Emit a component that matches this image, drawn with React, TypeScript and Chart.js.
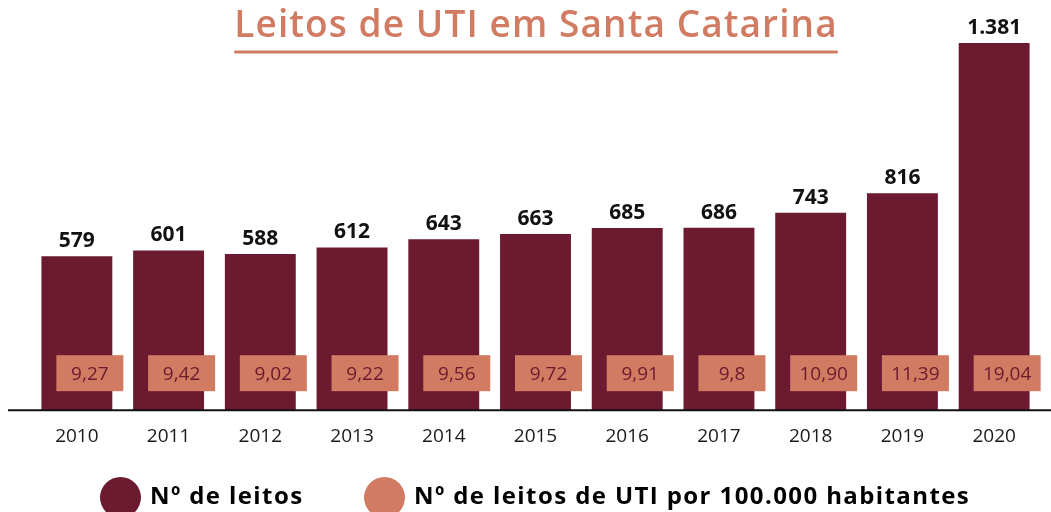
import React, { useEffect, useRef } from 'react';
import { Chart, registerables } from 'chart.js';

Chart.register(...registerables);

const years = ['2010', '2011', '2012', '2013', '2014', '2015', '2016', '2017', '2018', '2019', '2020'];
const leitos = [579, 601, 588, 612, 643, 663, 685, 686, 743, 816, 1381];
const leitosLabels = ['579', '601', '588', '612', '643', '663', '685', '686', '743', '816', '1.381'];
const leitosPor100k = [9.27, 9.42, 9.02, 9.22, 9.56, 9.72, 9.91, 9.8, 10.9, 11.39, 19.04];
const leitosPor100kLabels = ['9,27', '9,42', '9,02', '9,22', '9,56', '9,72', '9,91', '9,8', '10,90', '11,39', '19,04'];
const chartTitle = 'Leitos de UTI em Santa Catarina';
const seriesNames = ['Nº de leitos', 'Nº de leitos de UTI por 100.000 habitantes'];

const MAROON = '#6c1a2f';
const SALMON = '#d07b62';
const FONT = '"Open Sans", "DejaVu Sans", sans-serif';

const overlayPlugin = {
  id: 'overlay',
  afterDatasetsDraw(chart: any) {
    const { ctx, chartArea } = chart;
    const meta = chart.getDatasetMeta(0);
    ctx.save();
    // baseline axis
    ctx.strokeStyle = '#111';
    ctx.lineWidth = 2;
    ctx.beginPath();
    ctx.moveTo(8, chartArea.bottom);
    ctx.lineTo(chart.width, chartArea.bottom);
    ctx.stroke();

    meta.data.forEach((bar: any, i: number) => {
      ctx.fillStyle = '#111';
      ctx.font = `700 21px ${FONT}`;
      ctx.textAlign = 'center';
      ctx.textBaseline = 'alphabetic';
      ctx.fillText(leitosLabels[i], bar.x, bar.y - 9);

      const bx = bar.x + 13;
      const by = chartArea.bottom - 37;
      ctx.fillStyle = SALMON;
      ctx.fillRect(bx - 33.5, by - 18, 67, 36);
      ctx.fillStyle = MAROON;
      ctx.font = `400 19px ${FONT}`;
      ctx.textBaseline = 'middle';
      ctx.fillText(leitosPor100kLabels[i], bx, by + 1);
    });
    ctx.restore();
  },
  afterDraw(chart: any) {
    const { ctx } = chart;
    ctx.save();
    // title
    ctx.font = `600 37px ${FONT}`;
    (ctx as any).letterSpacing = '1.1px';
    ctx.fillStyle = SALMON;
    ctx.textAlign = 'left';
    ctx.textBaseline = 'alphabetic';
    const cx = 536;
    const tw = ctx.measureText(chartTitle).width;
    ctx.fillText(chartTitle, cx - tw / 2, 37);
    ctx.strokeStyle = SALMON;
    ctx.lineWidth = 3;
    ctx.beginPath();
    ctx.moveTo(cx - tw / 2, 52);
    ctx.lineTo(cx + tw / 2, 52);
    ctx.stroke();

    // legend
    const colors = [MAROON, SALMON];
    const starts = [100, 364];
    ctx.font = `700 24px ${FONT}`;
    (ctx as any).letterSpacing = '1.4px';
    ctx.textAlign = 'left';
    ctx.textBaseline = 'alphabetic';
    seriesNames.forEach((name, i) => {
      ctx.fillStyle = colors[i];
      ctx.beginPath();
      ctx.arc(starts[i] + 20.5, 497.5, 20.5, 0, Math.PI * 2);
      ctx.fill();
      ctx.fillStyle = '#000';
      ctx.fillText(name, starts[i] + 50, 504);
    });
    ctx.restore();
  },
};

export default function App() {
  const canvasRef = useRef<HTMLCanvasElement | null>(null);

  useEffect(() => {
    document.body.style.margin = '0';
    const canvas = canvasRef.current;
    if (!canvas) return;
    const chart = new Chart(canvas, {
      type: 'bar',
      data: {
        labels: years,
        datasets: [
          {
            label: seriesNames[0],
            data: leitos,
            backgroundColor: MAROON,
            barPercentage: 0.773,
            categoryPercentage: 1,
          },
        ],
      },
      options: {
        animation: false,
        responsive: false,
        maintainAspectRatio: false,
        layout: { padding: { top: 38, bottom: 57, left: 31, right: 11 } },
        plugins: {
          legend: { display: false },
          title: { display: false },
          tooltip: { enabled: false },
        },
        scales: {
          x: {
            grid: { display: false },
            border: { display: false },
            ticks: {
              color: '#1a1a1a',
              font: { family: FONT, size: 19, weight: '400' as any },
              padding: 7,
            },
          },
          y: {
            display: false,
            min: 0,
            max: 1400,
          },
        },
      },
      plugins: [overlayPlugin],
    });
    return () => chart.destroy();
  }, []);

  return (
    <div style={{ width: 1051, height: 512 }}>
      <canvas ref={canvasRef} width={1051} height={512} style={{ display: 'block' }} />
    </div>
  );
}
